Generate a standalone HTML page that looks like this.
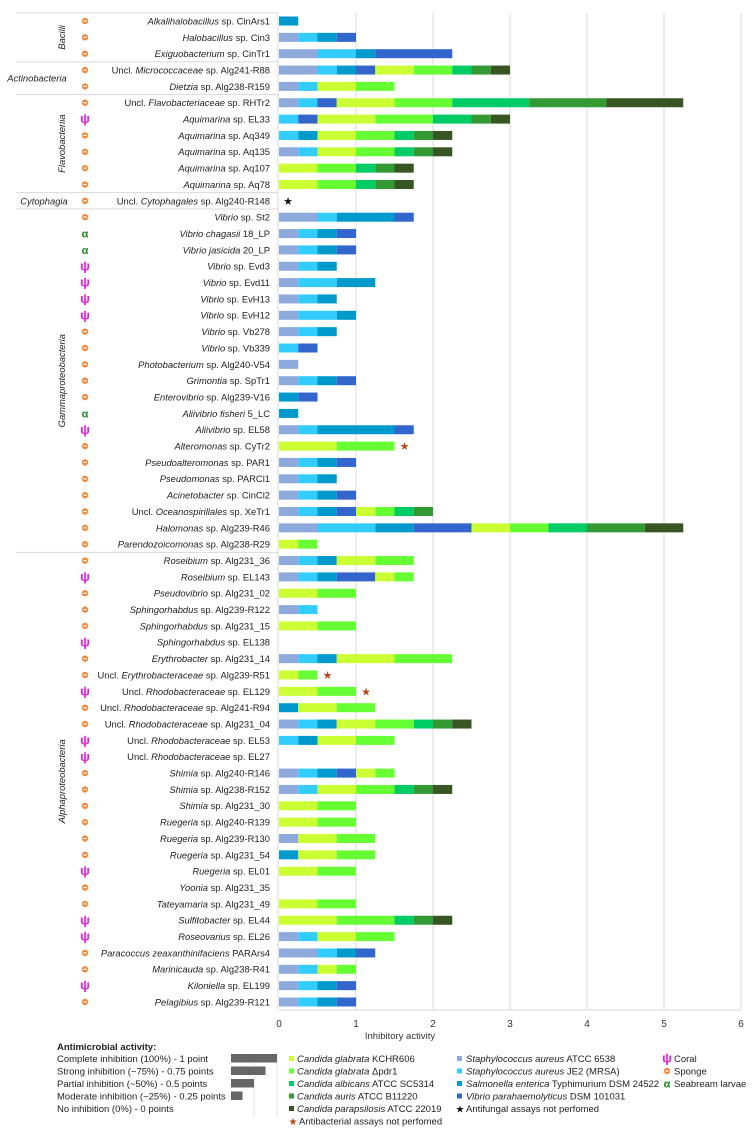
<!DOCTYPE html>
<html><head><meta charset="utf-8">
<style>
html,body{margin:0;padding:0;background:#fff;}
svg{display:block;font-family:"Liberation Sans",sans-serif;}
</style></head>
<body>
<svg id="chart" width="755" height="1134" viewBox="0 0 755 1134" xmlns="http://www.w3.org/2000/svg"></svg>
<script>
const names = ["*Alkalihalobacillus* sp. CinArs1","*Halobacillus* sp. Cin3","*Exiguobacterium* sp. CinTr1","Uncl. *Micrococcaceae* sp. Alg241-R88","*Dietzia* sp. Alg238-R159","Uncl. *Flavobacteriaceae* sp. RHTr2","*Aquimarina* sp. EL33","*Aquimarina* sp. Aq349","*Aquimarina* sp. Aq135","*Aquimarina* sp. Aq107","*Aquimarina* sp. Aq78","Uncl. *Cytophagales* sp. Alg240-R148","*Vibrio* sp. St2","*Vibrio chagasii* 18_LP","*Vibrio jasicida* 20_LP","*Vibrio* sp. Evd3","*Vibrio* sp. Evd11","*Vibrio* sp. EvH13","*Vibrio* sp. EvH12","*Vibrio* sp. Vb278","*Vibrio* sp. Vb339","*Photobacterium* sp. Alg240-V54","*Grimontia* sp. SpTr1","*Enterovibrio* sp. Alg239-V16","*Aliivibrio fisheri* 5_LC","*Aliivibrio* sp. EL58","*Alteromonas* sp. CyTr2","*Pseudoalteromonas* sp. PAR1","*Pseudomonas* sp. PARCl1","*Acinetobacter* sp. CinCl2","Uncl. *Oceanospirillales* sp. XeTr1","*Halomonas* sp. Alg239-R46","*Parendozoicomonas* sp. Alg238-R29","*Roseibium* sp. Alg231_36","*Roseibium* sp. EL143","*Pseudovibrio* sp. Alg231_02","*Sphingorhabdus* sp. Alg239-R122","*Sphingorhabdus* sp. Alg231_15","*Sphingorhabdus* sp. EL138","*Erythrobacter* sp. Alg231_14","Uncl. *Erythrobacteraceae* sp. Alg239-R51","Uncl. *Rhodobacteraceae* sp. EL129","Uncl. *Rhodobacteraceae* sp. Alg241-R94","Uncl. *Rhodobacteraceae* sp. Alg231_04","Uncl. *Rhodobacteraceae* sp. EL53","Uncl. *Rhodobacteraceae* sp. EL27","*Shimia* sp. Alg240-R146","*Shimia* sp. Alg238-R152","*Shimia* sp. Alg231_30","*Ruegeria* sp. Alg240-R139","*Ruegeria* sp. Alg239-R130","*Ruegeria* sp. Alg231_54","*Ruegeria* sp. EL01","*Yoonia* sp. Alg231_35","*Tateyamaria* sp. Alg231_49","*Sulfitobacter* sp. EL44","*Roseovarius* sp. EL26","*Paracoccus zeaxanthinifaciens* PARArs4","*Marinicauda* sp. Alg238-R41","*Kiloniella* sp. EL199","*Pelagibius* sp. Alg239-R121"];
// host: s=sponge, c=coral, a=seabream larvae
const hosts = ["s","s","s","s","s","s","c","s","s","s","s","s","s","a","a","c","c","c","c","s","s","s","s","s","a","c","s","s","s","s","s","s","s","s","c","s","s","s","c","s","s","c","s","s","c","c","s","s","s","s","s","s","c","s","s","c","c","s","s","c","s"];
const saureus6538 = [0,.25,.5,.5,.25,.25,0,0,.25,0,0,0,.5,.25,.25,.25,.25,.25,.25,.25,0,.25,.25,0,0,.25,0,.25,.25,.25,.25,.5,0,.25,.25,0,.25,0,0,.25,0,0,0,.25,0,0,.25,.25,0,0,.25,0,0,0,0,0,.25,.5,.25,.25,.25];
const saureusJE2 = [0,.25,.5,.25,.25,.25,.25,.25,.25,0,0,0,.25,.25,.25,.25,.5,.25,.5,.25,.25,0,.25,0,0,.25,0,.25,.25,.25,.25,.75,0,.25,.25,0,.25,0,0,.25,0,0,0,.25,.25,0,.25,.25,0,0,0,0,0,0,0,0,.25,.25,.25,.25,.25];
const salmonella = [.25,.25,.25,.25,0,0,0,.25,0,0,0,0,.75,.25,.25,.25,.5,.25,.25,.25,0,0,.25,.25,.25,1,0,.25,.25,.25,.25,.5,0,.25,.25,0,0,0,0,.25,0,0,.25,.25,.25,0,.25,0,0,0,0,.25,0,0,0,0,0,.25,0,.25,.25];
const vparah = [0,.25,1,.25,0,.25,.25,0,0,0,0,0,.25,.25,.25,0,0,0,0,0,.25,0,.25,.25,0,.25,0,.25,0,.25,.25,.75,0,0,.5,0,0,0,0,0,0,0,0,0,0,0,.25,0,0,0,0,0,0,0,0,0,0,.25,0,.25,.25];
const cglabrata = [0,0,0,.5,.5,.75,.75,.5,.5,.5,.5,0,0,0,0,0,0,0,0,0,0,0,0,0,0,0,.75,0,0,0,.25,.5,.25,.5,.25,.5,0,.5,0,.75,.25,.5,.5,.5,.5,0,.25,.5,.5,.5,.5,.5,.5,0,.5,.75,.5,0,.25,0,0];
const cglabrataPdr1 = [0,0,0,.5,.5,.75,.75,.5,.5,.5,.5,0,0,0,0,0,0,0,0,0,0,0,0,0,0,0,.75,0,0,0,.25,.5,.25,.5,.25,.5,0,.5,0,.75,.25,.5,.5,.5,.5,0,.25,.5,.5,.5,.5,.5,.5,0,.5,.75,.5,0,.25,0,0];
const calbicans = [0,0,0,.25,0,1,.5,.25,.25,.25,.25,0,0,0,0,0,0,0,0,0,0,0,0,0,0,0,0,0,0,0,.25,.5,0,0,0,0,0,0,0,0,0,0,0,.25,0,0,0,.25,0,0,0,0,0,0,0,.25,0,0,0,0,0];
const cauris = [0,0,0,.25,0,1,.25,.25,.25,.25,.25,0,0,0,0,0,0,0,0,0,0,0,0,0,0,0,0,0,0,0,.25,.75,0,0,0,0,0,0,0,0,0,0,0,.25,0,0,0,.25,0,0,0,0,0,0,0,.25,0,0,0,0,0];
const cparaps = [0,0,0,.25,0,1,.25,.25,.25,.25,.25,0,0,0,0,0,0,0,0,0,0,0,0,0,0,0,0,0,0,0,0,.5,0,0,0,0,0,0,0,0,0,0,0,.25,0,0,0,.25,0,0,0,0,0,0,0,.25,0,0,0,0,0];
const antifungalNA = [11];
const antibacterialNA = [26,40,41];
const xTicks = [0,1,2,3,4,5,6];
const groups = [["Bacilli",0,2,true],["Actinobacteria",3,4,false],["Flavobacteriia",5,10,true],["Cytophagia",11,11,false],["Gammaproteobacteria",12,32,true],["Alphaproteobacteria",33,60,true]];

const series = [saureus6538,saureusJE2,salmonella,vparah,cglabrata,cglabrataPdr1,calbicans,cauris,cparaps];
const seriesNames = ["s-aureus-6538","s-aureus-je2","salmonella","v-parahaemolyticus","c-glabrata","c-glabrata-pdr1","c-albicans","c-auris","c-parapsilosis"];
const colors = ["#8EA9DB","#33CCFF","#0099CC","#3366CC","#CCFF33","#66FF33","#00CC66","#339933","#375623"];

const NS="http://www.w3.org/2000/svg";
const svg=document.getElementById('chart');
const X0=279, XS=77, Y0=21, RS=16.35, BH=9, TOP=13, BOT=1010;
const FS=9.4;
const xs=v=>X0+v*XS;
const ys=i=>Y0+i*RS;
function mk(tag,attrs,parent){const e=document.createElementNS(NS,tag);for(const k in attrs)e.setAttribute(k,attrs[k]);(parent||svg).appendChild(e);return e;}
function richText(t,str){
  str.split("*").forEach((part,k)=>{if(!part)return;const sp=document.createElementNS(NS,'tspan');if(k%2===1)sp.setAttribute('font-style','italic');sp.textContent=part;t.appendChild(sp);});
}
xTicks.forEach(v=>{
  if(v>0){const g=mk('line',{x1:xs(v),x2:xs(v),y1:TOP,y2:BOT,stroke:'#d9d9d9','stroke-width':1});
  
  }
  const t=mk('text',{x:xs(v),y:1027,'font-size':10,'text-anchor':'middle',fill:'#333'});
  t.textContent=v;
  
  
});
const axl=mk('line',{x1:X0,x2:xs(6),y1:BOT,y2:BOT,stroke:'#d9d9d9'});


const axv=mk('line',{x1:X0-1,x2:X0-1,y1:TOP,y2:BOT,stroke:'#d9d9d9'});


const xt=mk('text',{x:400,y:1039,'font-size':9.5,'text-anchor':'middle',fill:'#333'});
xt.textContent="Inhibitory activity";



const topL=mk('line',{x1:16,x2:X0-1,y1:TOP,y2:TOP,stroke:'#d9d9d9'});


groups.forEach(([g,a,b,rot])=>{
  if(a>0){const l=mk('line',{x1:16,x2:X0-1,y1:ys(a)-RS/2,y2:ys(a)-RS/2,stroke:'#d9d9d9'});
  
  }
  const cy=(ys(a)+ys(b))/2;
  let t;
  if(rot){t=mk('text',{x:0,y:0,'font-size':FS,'font-style':'italic','text-anchor':'middle',fill:'#222',transform:`translate(65,${cy}) rotate(-90)`});}
  else{t=mk('text',{x:g==="Cytophagia"?44:37,y:cy+3.5,'font-size':FS,'font-style':'italic','text-anchor':'middle',fill:'#222'});}
  t.textContent=g;
  
  
});

function hostIcon(h,x,y){
  if(h==='s'){
    const g=mk('g',{});
    
    
    mk('circle',{cx:x,cy:y,r:3.2,fill:'#F4883A'},g);
    mk('rect',{x:x-1.8,y:y-0.6,width:3.6,height:1.2,fill:'#fff'},g);
    return g;
  }
  const t=mk('text',{x:x,y:y+4,'font-size':h==='c'?13:11,'font-weight':'bold','text-anchor':'middle',fill:h==='c'?'#E020E0':'#1E8C1E'});
  t.textContent=h==='c'?'ψ':'α';
  
  
  return t;
}

names.forEach((n,i)=>{
  const y=ys(i);
  const t=mk('text',{x:270,y:y+3.4,'font-size':FS,'text-anchor':'end',fill:'#222'});
  richText(t,n);
  
  
  hostIcon(hosts[i],85,y);
  let cum=0;
  series.forEach((s,k)=>{
    const v=s[i];
    if(v>0){
      const r=mk('rect',{x:xs(cum),y:y-BH/2,width:v*XS,height:BH,fill:colors[k]});
      
      
    }
    cum+=v;
  });
  if(antifungalNA.includes(i)){
    const st=mk('text',{x:xs(cum)+9,y:y+4,'font-size':11,'text-anchor':'middle',fill:'#111'});
    st.textContent='★';
    
    
  }
  if(antibacterialNA.includes(i)){
    const st=mk('text',{x:xs(cum)+10,y:y+4,'font-size':11,'text-anchor':'middle',fill:'#B5481A'});
    st.textContent='★';
    
    
  }
});

const L=mk('g',{});


const lt=mk('text',{x:57,y:1050,'font-size':9.5,'font-weight':'bold',fill:'#222'},L);
lt.textContent="Antimicrobial activity:";
const scale=[["Complete inhibition (100%) - 1 point",1],["Strong inhibition (~75%) - 0.75 points",.75],["Partial inhibition (~50%) - 0.5 points",.5],["Moderate inhibition (~25%) - 0.25 points",.25],["No inhibition (0%) - 0 points",0]];
const ly=[1062,1074.5,1087,1099.5,1112];
mk('line',{x1:254,x2:254,y1:1053,y2:1117,stroke:'#e3e3e3'},L);
mk('line',{x1:277,x2:277,y1:1053,y2:1117,stroke:'#e3e3e3'},L);
scale.forEach(([s,v],i)=>{
  const t=mk('text',{x:57,y:ly[i],'font-size':9.5,fill:'#222'},L);
  t.textContent=s;
  
  
  if(v>0){const r=mk('rect',{x:231,y:ly[i]-8,width:46*v,height:8.5,fill:'#666'},L);
  
  }
});
const fungal=["*Candida glabrata* KCHR606","*Candida glabrata* Δpdr1","*Candida albicans* ATCC SC5314","*Candida auris* ATCC B11220","*Candida parapsilosis* ATCC 22019"];
fungal.forEach((s,i)=>{
  mk('rect',{x:289,y:ly[i]-6,width:5,height:5,fill:colors[4+i]},L);
  const t=mk('text',{x:297,y:ly[i],'font-size':9.5,fill:'#222'},L);
  richText(t,s);
  
  
});
const st1=mk('text',{x:293,y:1125,'font-size':10,'text-anchor':'middle',fill:'#B5481A'},L);st1.textContent='★';
const st1t=mk('text',{x:299,y:1124.5,'font-size':9.5,fill:'#222'},L);st1t.textContent="Antibacterial assays not perfomed";
const bact=["*Staphylococcus aureus* ATCC 6538","*Staphylococcus aureus* JE2 (MRSA)","*Salmonella enterica* Typhimurium DSM 24522","*Vibrio parahaemolyticus* DSM 101031"];
bact.forEach((s,i)=>{
  mk('rect',{x:457,y:ly[i]-6,width:5,height:5,fill:colors[i]},L);
  const t=mk('text',{x:466,y:ly[i],'font-size':9.5,fill:'#222'},L);
  richText(t,s);
  
  
});
const st2=mk('text',{x:460,y:1112.5,'font-size':10,'text-anchor':'middle',fill:'#111'},L);st2.textContent='★';
const st2t=mk('text',{x:466,y:1112,'font-size':9.5,fill:'#222'},L);st2t.textContent="Antifungal assays not perfomed";
const hl=[["c","Coral"],["s","Sponge"],["a","Seabream larvae"]];
hl.forEach(([h,s],i)=>{
  const ic=hostIcon(h,667,ly[i]-3.5);
  L.appendChild(ic);
  const t=mk('text',{x:674,y:ly[i],'font-size':9.5,fill:'#222'},L);
  t.textContent=s;
  
  
});
</script>
</body></html>
